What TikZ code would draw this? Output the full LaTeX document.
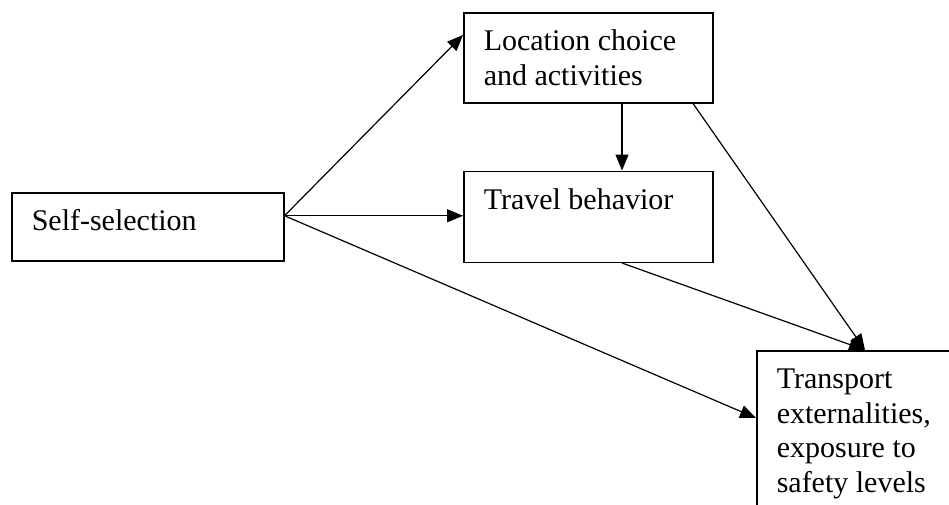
\documentclass[tikz,border=0pt]{standalone}
\usepackage{fontspec}
\setmainfont{Liberation Serif}
\usetikzlibrary{arrows.meta,positioning}

\begin{document}
\begin{tikzpicture}[x=1pt,y=-1pt,>={Triangle[length=16pt,width=13pt]},line width=1.2pt,
                    box/.style={draw,line width=1.5pt,anchor=north west,align=flush left,
                    inner xsep=20pt,inner ysep=0pt,text height=38pt,font=\fontsize{30}{34.5}\selectfont}]
  \useasboundingbox (0,0) rectangle (949,504);
  \clip (0,0) rectangle (949,504);

  \node[box,text width=232pt,text depth=30pt] (self) at (11,192) {Self-selection};
  \node[box,text width=209pt,text depth=52pt] (loc) at (463,12) {Location choice\\and activities};
  \node[box,text width=209pt,text depth=53pt,below=67pt of loc.south west,anchor=north west] (trav) {Travel behavior};
  \node[box,text width=190pt,text depth=170pt] (ext) at (756,350)
       {Transport\\externalities,\\exposure to\\safety levels};

  \coordinate (src) at ([yshift=11pt]self.east);
  \draw[->] (src) -- ([yshift=-23pt]loc.north west);
  \draw[->] (src) -- (src -| trav.west);
  \draw[->] (src) -- ([yshift=-68pt]ext.north west);
  \draw[->] ([xshift=159pt]loc.south west) -- ([xshift=159pt]trav.north west);
  \draw[->] ([xshift=230pt]loc.south west) -- ([xshift=109pt]ext.north west);
  \draw[->] ([xshift=159pt]trav.south west) -- ([xshift=109pt]ext.north west);
\end{tikzpicture}
\end{document}
